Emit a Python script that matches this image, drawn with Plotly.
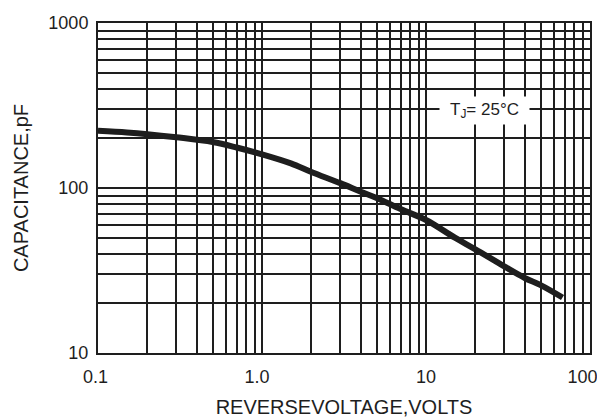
import math
import plotly.graph_objects as go

# Data
voltage = [0.1, 0.15, 0.2, 0.3, 0.5, 0.7, 1.0, 1.5, 2.0, 3.0, 4.0, 5.0, 7.0, 10, 15, 20, 30, 40, 50, 68]
capacitance = [222, 217, 212, 203, 190, 176, 160, 141, 125, 107, 95, 87, 74.5, 64, 50, 42.5, 33.5, 28.5, 25.8, 21.7]

x_decades = [0.1, 1, 10, 100]
x_tick_labels = ["0.1", "1.0", "10", "100"]
y_decades = [10, 100, 1000]
y_tick_labels = ["10", "100", "1000"]
mantissas = [1, 2, 3, 4, 5, 6, 7, 8, 9]

def grid_vals(decades):
    vals = []
    for d in decades[:-1]:
        for m in mantissas:
            vals.append(round(d * m, 6))
    vals.append(decades[-1])
    return vals

def grid_text(vals, decades, labels):
    out = []
    for v in vals:
        txt = ""
        for d, l in zip(decades, labels):
            if abs(v - d) < 1e-9:
                txt = l
        out.append(txt)
    return out

xv = grid_vals(x_decades)
yv = grid_vals(y_decades)
NB = "\u00a0"
xt = grid_text(xv, x_decades, [x_tick_labels[0] + NB, x_tick_labels[1] + NB * 2, x_tick_labels[2], x_tick_labels[3] + NB * 3])
yt = grid_text(yv, y_decades, y_tick_labels)

INK = "#1e1e1e"
FONT = "Liberation Sans, Arial, sans-serif"

fig = go.Figure()
fig.add_trace(go.Scatter(
    x=voltage, y=capacitance, mode="lines",
    line=dict(color=INK, width=6, shape="spline", smoothing=1.0),
    hoverinfo="skip",
))

axis_common = dict(
    type="log", showgrid=True, gridcolor=INK, gridwidth=2,
    showline=True, linecolor=INK, linewidth=2, mirror=True,
    ticks="", zeroline=False, automargin=False,
    ticklabeloverflow="allow",
    tickfont=dict(family=FONT, size=18, color=INK),
)

fig.update_xaxes(
    range=[math.log10(x_decades[0]), math.log10(x_decades[-1])],
    tickmode="array", tickvals=xv, ticktext=xt,
    ticklabelstandoff=6,
    title=dict(text="REVERSEVOLTAGE,VOLTS", font=dict(family=FONT, size=20, color=INK), standoff=14),
    **axis_common,
)
fig.update_yaxes(
    range=[math.log10(y_decades[0]), math.log10(y_decades[-1])],
    tickmode="array", tickvals=yv, ticktext=yt,
    ticklabelstandoff=4,
    title=dict(text="CAPACITANCE,pF", font=dict(family=FONT, size=20, color=INK), standoff=14),
    **axis_common,
)

fig.add_annotation(
    text="T<sub>J</sub>= 25°C", xref="x", yref="y",
    x=math.log10(22.8), y=math.log10(294), showarrow=False,
    bgcolor="white", width=87, height=25,
    font=dict(family=FONT, size=17, color=INK),
)

fig.update_layout(
    width=597, height=418,
    margin=dict(l=98, r=7, t=23, b=65),
    paper_bgcolor="white", plot_bgcolor="white",
    showlegend=False,
    font=dict(family=FONT, size=18, color=INK),
)

fig.write_html(
    "out.html",
    config={"displayModeBar": False, "staticPlot": True},
    post_script="document.body.style.margin='0';document.body.style.overflow='hidden';",
)
